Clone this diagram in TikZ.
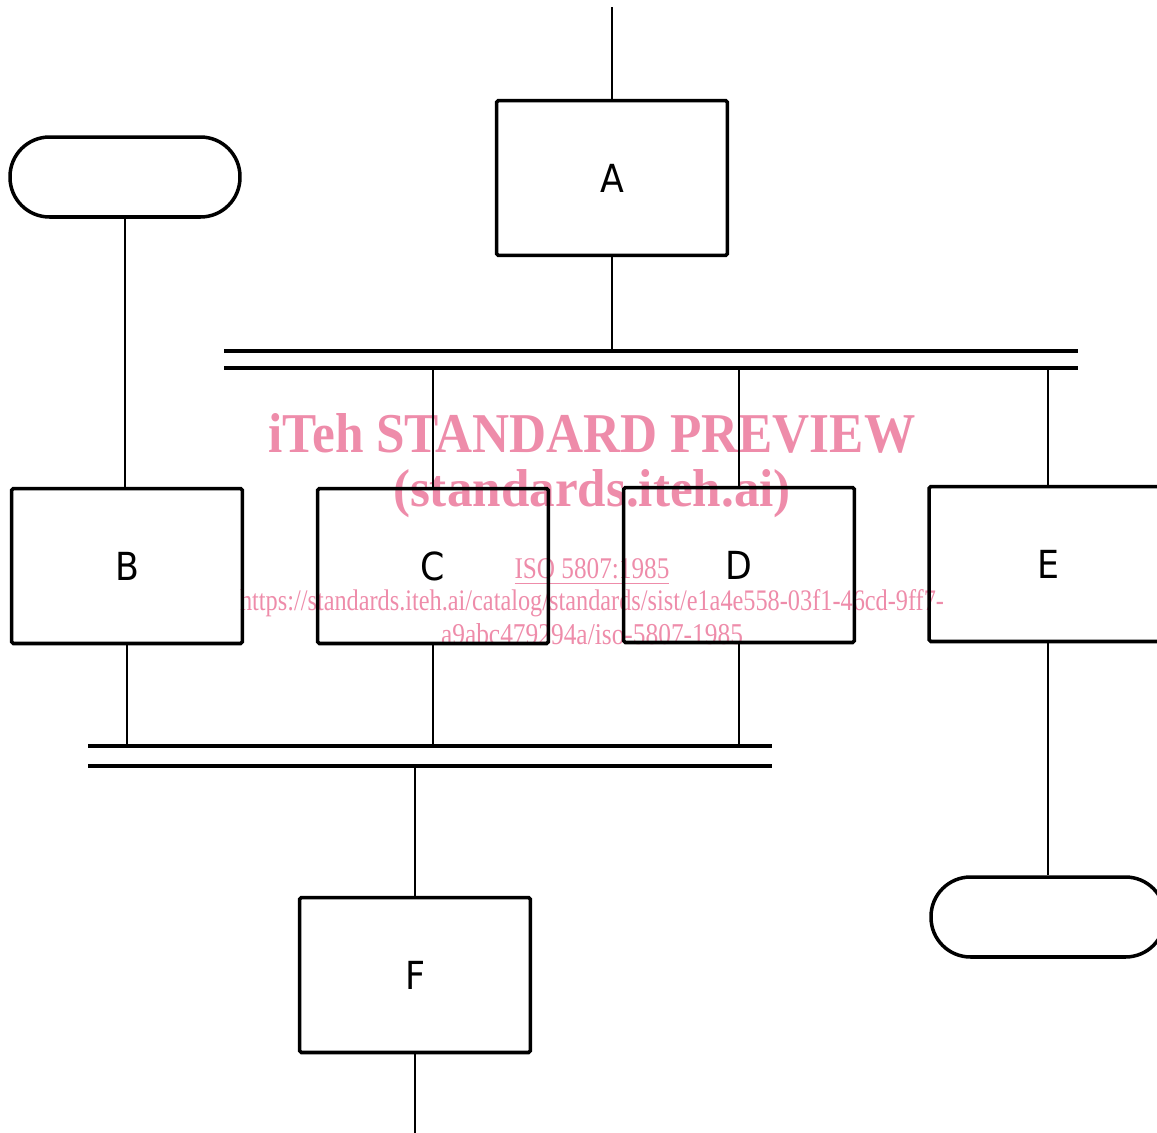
\documentclass[tikz,border=0pt]{standalone}
\usepackage{fontspec}
\setmainfont{Liberation Serif}
\newfontfamily\labelfont{DejaVu Sans Condensed}

\definecolor{wmpink}{RGB}{238,140,170}

\tikzset{
  proc/.style={draw,line width=2pt,rounded corners=1pt,minimum width=4.62cm,minimum height=3.1cm,
    font=\labelfont\fontsize{22}{26}\selectfont},
  term/.style={draw,line width=2pt,rounded corners=0.79cm,minimum width=4.6cm,minimum height=1.6cm},
  flow/.style={line width=1.2pt},
  rail/.style={line width=2pt},
  wm/.style={text=wmpink,inner sep=0pt}
}

\begin{document}
\begin{tikzpicture}[x=0.02cm,y=-0.02cm]
        \useasboundingbox (0,0) rectangle (1157,1133);
        % watermark
        \node[wm] (wm1) at (592,433) {\resizebox{12.94cm}{0.78cm}{\bfseries iTeh STANDARD PREVIEW}};
        \node[wm] (wm2) at (592,494) {\resizebox{7.96cm}{0.74cm}{\bfseries (standards.iteh.ai)}};
        \node[wm] (wm3) at (592,572) {\resizebox{3.1cm}{0.4cm}{\underline{ISO 5807:1985}}};
        \node[wm] (wm4) at (592,603) {\resizebox{14.08cm}{0.42cm}{https://standards.iteh.ai/catalog/standards/sist/e1a4e558-03f1-46cd-9ff7-}};
        \node[wm] (wm5) at (592,634) {\resizebox{6.04cm}{0.42cm}{a9abc479294a/iso-5807-1985}};
        % steps
        \node[proc] (A) at (612,178) {A};
        \node[term] (T1) at (125,177) {};
        \node[proc] (B) at (127,566) {B};
        \node[proc] (C) at (433,566) {C};
        \node[proc] (D) at (739,565) {D};
        \node[proc,minimum width=4.76cm] (E) at (1048,564) {E};
        \node[proc] (F) at (415,975) {F};
        \node[term,minimum width=4.68cm] (T2) at (1048,917) {};
        \coordinate (in) at (612,7);
        \coordinate (out) at (415,1133);
        % double lines
        \coordinate (r1a) at (224,351); \coordinate (r1b) at (1078,351);
        \coordinate (r2a) at (224,368); \coordinate (r2b) at (1078,368);
        \coordinate (r3a) at (88,746);  \coordinate (r3b) at (772,746);
        \coordinate (r4a) at (88,766);  \coordinate (r4b) at (772,766);
        \draw[rail] (r1a) -- (r1b);
        \draw[rail] (r2a) -- (r2b);
        \draw[rail] (r3a) -- (r3b);
        \draw[rail] (r4a) -- (r4b);
        % flow lines
        \path[draw,flow] (in) -- (A);
        \path[draw,flow] (A) -- (A |- r1a);
        \path[draw,flow] (C |- r2a) -- (C);
        \path[draw,flow] (D |- r2a) -- (D);
        \path[draw,flow] (E |- r2a) -- (E);
        \path[draw,flow] (T1) -- (T1 |- B.north);
        \path[draw,flow] (B) -- (B |- r3a);
        \path[draw,flow] (C) -- (C |- r3a);
        \path[draw,flow] (D) -- (D |- r3a);
        \path[draw,flow] (F |- r4a) -- (F);
        \path[draw,flow] (F) -- (out);
        \path[draw,flow] (E) -- (T2);
\end{tikzpicture}
\end{document}
